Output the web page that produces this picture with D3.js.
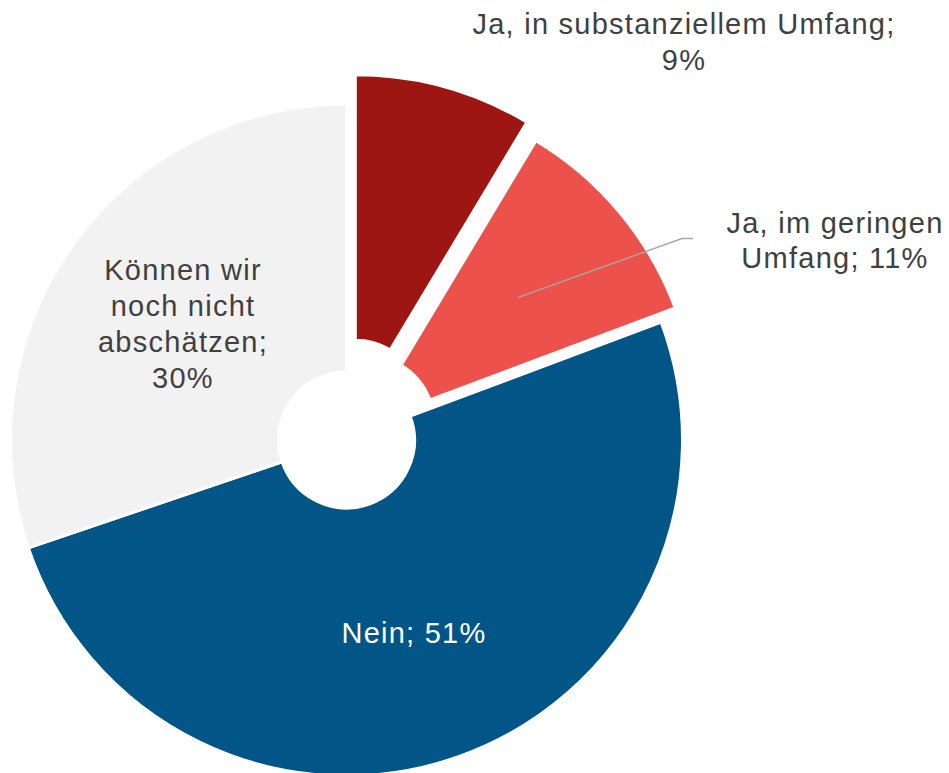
<!DOCTYPE html>
<html>
<head>
<meta charset="utf-8">
<script src="https://cdn.jsdelivr.net/npm/d3@7/dist/d3.min.js"></script>
<style>
  html, body { margin: 0; padding: 0; background: #ffffff; }
  svg { display: block; }
  text { font-family: "Liberation Sans", Arial, sans-serif; }
</style>
</head>
<body>
<svg id="chart" width="949" height="773"></svg>
<script>
// ---- data ----
const categories = [
  "Ja, in substanziellem Umfang",
  "Ja, im geringen Umfang",
  "Nein",
  "Können wir noch nicht abschätzen"
];
const values = [8.6, 10.7, 50.5, 30.2];
const valueLabels = ["9%", "11%", "51%", "30%"];
const labelLines = [
  ["Ja, in substanziellem Umfang;", "9%"],
  ["Ja, im geringen", "Umfang; 11%"],
  ["Nein; 51%"],
  ["Können wir", "noch nicht", "abschätzen;", "30%"]
];

// ---- layout / style ----
const colors = ["#9E1611", "#EC524B", "#015587", "#F2F2F2"];
const explode = [33, 25.6, 0, 0];
const sliceOuterR = [333.5, 330, 336, 336];
const cx = 346.5, cy = 440;
const innerR = 68;
const fontSize = 29, lineH = 36;

const svg = d3.select("#chart");
const pie = d3.pie().sort(null).value(d => d).startAngle(0).endAngle(2 * Math.PI);
const arcs = pie(values);
const arcFor = i => d3.arc().innerRadius(innerR).outerRadius(sliceOuterR[i]);

const g = svg.append("g").attr("transform", `translate(${cx},${cy})`);

function offset(d, i) {
  const mid = (d.startAngle + d.endAngle) / 2;
  return [Math.sin(mid) * explode[i], -Math.cos(mid) * explode[i]];
}

g.selectAll("path.slice")
  .data(arcs)
  .enter().append("path")
  .attr("class", "slice")
  .attr("d", (d, i) => arcFor(i)(d))
  .attr("transform", (d, i) => { const o = offset(d, i); return `translate(${o[0]},${o[1]})`; })
  .attr("fill", (d, i) => colors[i])
  .attr("stroke", "#ffffff")
  .attr("stroke-width", 3)
  .attr("stroke-linejoin", "miter");

// leader line for slice 2
{
  const d = arcs[1];
  const o = offset(d, 1);
  const mid = (d.startAngle + d.endAngle) / 2;
  const r = 197;
  const sx = cx + o[0] + Math.sin(mid) * r;
  const sy = cy + o[1] - Math.cos(mid) * r;
  svg.append("path")
    .attr("d", `M${sx},${sy} L682,238.5 L693,238.5`)
    .attr("fill", "none")
    .attr("stroke", "#A6A6A6")
    .attr("stroke-width", 1.4);
}

// labels
const labelPos = [
  { x: 684, y: 33.5, color: "#404040" },
  { x: 835, y: 233, color: "#404040" },
  { x: 414, y: 642.5, color: "#ffffff" },
  { x: 183, y: 279.5, color: "#404040" }
];

labelLines.forEach((lines, i) => {
  const t = svg.append("text")
    .attr("x", labelPos[i].x)
    .attr("y", labelPos[i].y)
    .attr("text-anchor", "middle")
    .attr("fill", labelPos[i].color)
    .style("font-size", fontSize + "px")
    .style("letter-spacing", "1.25px");
  lines.forEach((ln, j) => {
    t.append("tspan")
      .attr("x", labelPos[i].x)
      .attr("dy", j === 0 ? 0 : (i === 1 ? 35 : lineH))
      .text(ln);
  });
});
</script>
</body>
</html>
